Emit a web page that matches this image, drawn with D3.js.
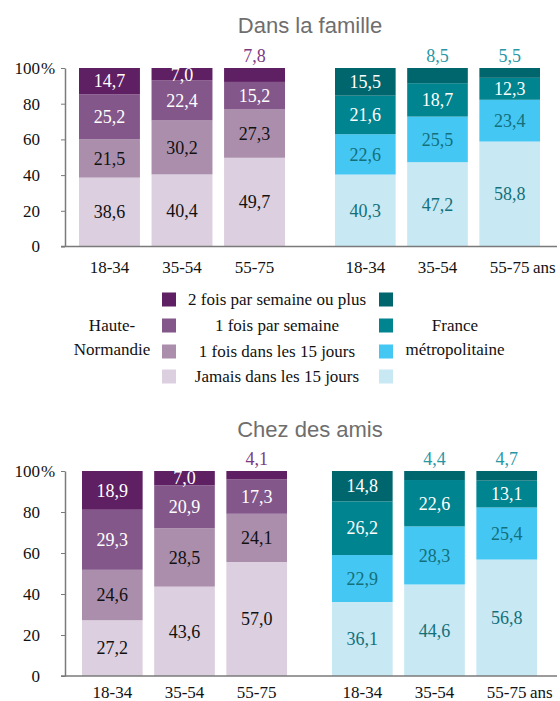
<!DOCTYPE html>
<html>
<head>
<meta charset="utf-8">
<script src="https://cdn.jsdelivr.net/npm/d3@7"></script>
<style>
  body { margin: 0; background: #fff; }
  .axis path, .axis line { stroke: #7a7a7a; }
</style>
</head>
<body>
<svg id="chart" width="560" height="701" font-family="Liberation Serif"></svg>
<script>
// age groups and frequency classes (stack order: bottom -> top)
var ageGroups = ["18-34", "35-54", "55-75"];
var freqKeys = ["jamais", "quinze", "semaine", "deux"];
var freqLabels = ["Jamais dans les 15 jours", "1 fois dans les 15 jours", "1 fois par semaine", "2 fois par semaine ou plus"];
var yTicks = [0, 20, 40, 60, 80, 100];

// Dans la famille (%), one row per age group, bottom -> top
var familleHN = [[38.6, 21.5, 25.2, 14.7], [40.4, 30.2, 22.4, 7.0], [49.7, 27.3, 15.2, 7.8]];
var familleFR = [[40.3, 22.6, 21.6, 15.5], [47.2, 25.5, 18.7, 8.5], [58.8, 23.4, 12.3, 5.5]];
// Chez des amis (%)
var amisHN = [[27.2, 24.6, 29.3, 18.9], [43.6, 28.5, 20.9, 7.0], [57.0, 24.1, 17.3, 4.1]];
var amisFR = [[36.1, 22.9, 26.2, 14.8], [44.6, 28.3, 22.6, 4.4], [56.8, 25.4, 13.1, 4.7]];

// top segment label written above the bar
var hnTopAbove = [false, false, true];
var frTopAbove = [false, true, true];

var hnColors = ["#dccfdf", "#ab8eac", "#83578a", "#5f1f63"];
var frColors = ["#c8e8f3", "#45c7f4", "#00848f", "#00666e"];
var hnText = ["#111", "#111", "#fff", "#fff"];
var frText = ["#13707a", "#13707a", "#fff", "#fff"];
var hnAboveColor = "#7a3a84", frAboveColor = "#2797a6";

var SERIF = "Liberation Serif";
var SANS = "Liberation Sans";

var fr = d3.formatLocale({decimal: ",", thousands: " ", grouping: [3], currency: ["", "€"]});
var fmt = fr.format(".1f");

var svg = d3.select("#chart");

var panels = [
  {title: "Dans la famille", titleY: 33, y0: 246.5, y1: 68, hn: familleHN, fr: familleFR,
   hnRange: [79, 285], frRange: [335, 540], catY: 273},
  {title: "Chez des amis", titleY: 437, y0: 676, y1: 471, hn: amisHN, fr: amisFR,
   hnRange: [82, 287], frRange: [332, 537], catY: 698}
];

panels.forEach(function(p) {
  var y = d3.scaleLinear().domain([0, 1]).range([p.y0, p.y1]);
  var g = svg.append("g");

  g.append("text")
    .attr("x", 310).attr("y", p.titleY)
    .attr("text-anchor", "middle")
    .attr("font-family", SANS).attr("font-size", 22).attr("fill", "#6e6e6e")
    .text(p.title);

  drawGroup(g, p.hn, p.hnRange, y, hnColors, hnText, hnTopAbove, hnAboveColor, p.catY, false);
  drawGroup(g, p.fr, p.frRange, y, frColors, frText, frTopAbove, frAboveColor, p.catY, true);

  // y axis
  var yAx = d3.scaleLinear().domain([0, 100]).range([p.y0, p.y1]);
  var ax = g.append("g").attr("class", "axis")
    .attr("transform", "translate(65,0)")
    .call(d3.axisLeft(yAx).tickValues(yTicks).tickSize(4).tickPadding(21).tickSizeOuter(0));
  ax.attr("font-family", SERIF).attr("font-size", 17);
  ax.select(".domain").attr("stroke-width", 1.5);
  ax.selectAll("text").attr("fill", "#111");
  ax.selectAll(".tick").filter(function(d) { return d === 100; })
    .append("text").attr("x", -24).attr("dy", "0.32em")
    .attr("text-anchor", "start").attr("fill", "#111")
    .text("%");

  // baseline
  g.append("line").attr("x1", 61).attr("x2", 557)
    .attr("y1", p.y0).attr("y2", p.y0)
    .attr("stroke", "#7a7a7a").attr("stroke-width", 1.5);
});

function drawGroup(g, rows, range, y, colors, textColors, above, aboveColor, catY, withAns) {
  var x = d3.scaleBand().domain(ageGroups).range(range).paddingInner(0.16).paddingOuter(0);
  var table = rows.map(function(r, i) {
    var o = {age: ageGroups[i]};
    freqKeys.forEach(function(k, j) { o[k] = r[j]; });
    return o;
  });
  var series = d3.stack().keys(freqKeys).offset(d3.stackOffsetExpand)(table);

  var layer = g.append("g").selectAll("g").data(series).join("g")
    .attr("fill", function(d, i) { return colors[i]; });
  layer.selectAll("rect").data(function(d) { return d; }).join("rect")
    .attr("x", function(d) { return x(d.data.age); })
    .attr("width", x.bandwidth())
    .attr("y", function(d) { return y(d[1]); })
    .attr("height", function(d) { return y(d[0]) - y(d[1]); });

  // value labels
  series.forEach(function(s, si) {
    s.forEach(function(d, ai) {
      var isAbove = si === freqKeys.length - 1 && above[ai];
      var cy = isAbove ? y(1) - 12 : (y(d[0]) + y(d[1])) / 2;
      g.append("text")
        .attr("x", x(d.data.age) + x.bandwidth() / 2)
        .attr("y", cy).attr("dy", "0.35em")
        .attr("text-anchor", "middle")
        .attr("fill", isAbove ? aboveColor : textColors[si])
        .attr("font-family", SERIF).attr("font-size", 18)
        .text(fmt(d.data[s.key]));
    });
  });

  // category labels
  g.append("g").selectAll("text").data(ageGroups).join("text")
    .attr("x", function(d) { return x(d) + x.bandwidth() / 2; })
    .attr("y", catY)
    .attr("text-anchor", "middle")
    .attr("fill", "#111")
    .attr("font-family", SERIF).attr("font-size", 17)
    .text(function(d) { return d; });
  if (withAns) {
    g.append("text").attr("x", range[1] - 7).attr("y", catY)
      .attr("fill", "#111").attr("font-family", SERIF).attr("font-size", 17).text("ans");
  }
}

// legend
var legend = svg.append("g").attr("font-family", SERIF).attr("font-size", 17).attr("fill", "#111");
var rowY = [299.5, 325.5, 351.5, 376.5];
var legendOrder = [3, 2, 1, 0];
legendOrder.forEach(function(k, r) {
  legend.append("rect").attr("x", 162).attr("y", rowY[r] - 7).attr("width", 14).attr("height", 14)
    .attr("fill", hnColors[k]);
  legend.append("rect").attr("x", 379).attr("y", rowY[r] - 7).attr("width", 14).attr("height", 14)
    .attr("fill", frColors[k]);
  legend.append("text").attr("x", 277).attr("y", rowY[r]).attr("dy", "0.35em")
    .attr("text-anchor", "middle")
    .text(freqLabels[k]);
});
[["Haute-", 325.5], ["Normandie", 349.5]].forEach(function(t) {
  legend.append("text").attr("x", 112).attr("y", t[1]).attr("dy", "0.35em")
    .attr("text-anchor", "middle").text(t[0]);
});
[["France", 325.5], ["métropolitaine", 349.5]].forEach(function(t) {
  legend.append("text").attr("x", 455).attr("y", t[1]).attr("dy", "0.35em")
    .attr("text-anchor", "middle").text(t[0]);
});
</script>
</body>
</html>
